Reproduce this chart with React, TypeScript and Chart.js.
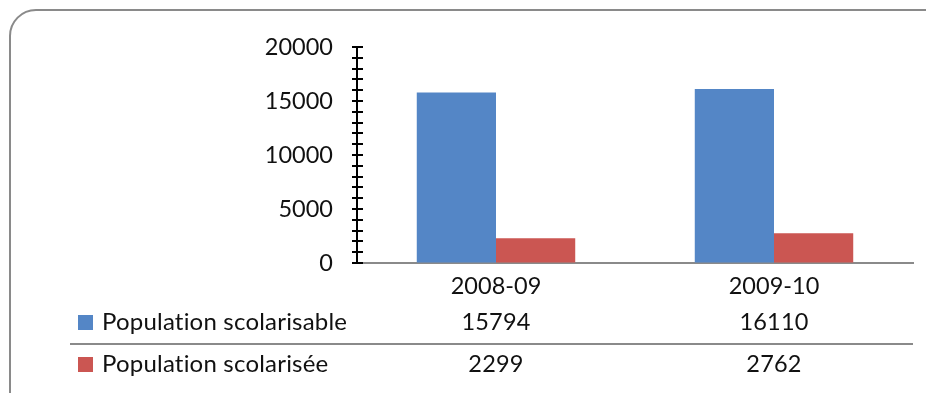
import React, { useEffect, useRef } from "react";
import { Chart, registerables } from "chart.js";

Chart.register(...registerables);

const categories = ["2008-09", "2009-10"];
const seriesNames = ["Population scolarisable", "Population scolarisée"];
const scolarisable = [15794, 16110];
const scolarisee = [2299, 2762];
const yMax = 20000;
const yMajorStep = 5000;
const yMinorStep = 1000;

const BLUE = "#5486C6";
const RED = "#CB5652";
const TEXT = "#111111";
const FONT = "Lato, 'Open Sans', sans-serif";

// Frame, crossing axis ticks and the data table under the plot
const tablePlugin = {
  id: "tablePlugin",
  beforeDraw(chart: any) {
    const ctx = chart.ctx;
    ctx.save();
    ctx.fillStyle = "#ffffff";
    ctx.fillRect(0, 0, chart.width, chart.height);
    ctx.strokeStyle = "#8a8a8a";
    ctx.lineWidth = 2;
    ctx.beginPath();
    ctx.roundRect(10, 10, 940, 410, 26);
    ctx.stroke();
    ctx.restore();
  },
  afterDraw(chart: any) {
    const ctx = chart.ctx;
    const x = chart.scales.x;
    const y = chart.scales.y;
    const area = chart.chartArea;
    ctx.save();

    // tick marks crossing the value axis
    ctx.strokeStyle = "#000000";
    ctx.lineWidth = 2;
    for (let v = 0; v <= yMax; v += yMinorStep) {
      const py = Math.round(y.getPixelForValue(v));
      ctx.beginPath();
      ctx.moveTo(area.left - 5, py);
      ctx.lineTo(area.left + 6, py);
      ctx.stroke();
    }

    // separator between table rows
    ctx.strokeStyle = "#8a8a8a";
    ctx.lineWidth = 2;
    ctx.beginPath();
    ctx.moveTo(70, 344);
    ctx.lineTo(area.right, 344);
    ctx.stroke();

    ctx.fillStyle = TEXT;
    ctx.textBaseline = "middle";
    // a tiny spacing keeps "ti" from being drawn as a ligature
    (ctx as any).letterSpacing = "0.2px";

    const rows = [
      { name: seriesNames[0], values: scolarisable, color: BLUE, cy: 322 },
      { name: seriesNames[1], values: scolarisee, color: RED, cy: 364 },
    ];
    rows.forEach((r) => {
      ctx.fillStyle = r.color;
      ctx.fillRect(78, r.cy - 7, 15, 15);
      ctx.fillStyle = TEXT;
      ctx.textAlign = "left";
      ctx.font = `24px ${FONT}`;
      ctx.fillText(r.name, 102, r.cy);
      ctx.textAlign = "center";
      ctx.font = `23.5px ${FONT}`;
      r.values.forEach((v, i) => {
        ctx.fillText(String(v), x.getPixelForValue(i), r.cy);
      });
    });
    ctx.restore();
  },
};

export default function App() {
  const ref = useRef<HTMLCanvasElement>(null);

  useEffect(() => {
    if (!ref.current) return;
    const chart = new Chart(ref.current, {
      type: "bar",
      data: {
        labels: categories,
        datasets: [
          {
            label: seriesNames[0],
            data: scolarisable,
            backgroundColor: BLUE,
            categoryPercentage: 0.57,
            barPercentage: 1,
          },
          {
            label: seriesNames[1],
            data: scolarisee,
            backgroundColor: RED,
            categoryPercentage: 0.57,
            barPercentage: 1,
          },
        ],
      },
      options: {
        responsive: false,
        animation: false,
        layout: { padding: { top: 47, right: 13, left: 0, bottom: 0 } },
        plugins: {
          legend: { display: false },
          tooltip: { enabled: false },
          title: { display: false },
        },
        scales: {
          x: {
            grid: { display: false, drawTicks: false },
            border: { display: true, color: "#8a8a8a", width: 2 },
            ticks: {
              color: TEXT,
              font: { family: FONT, size: 23.5 },
              padding: 9,
              maxRotation: 0,
            },
            afterFit: (s: any) => {
              s.height = 130;
            },
          },
          y: {
            min: 0,
            max: yMax,
            grid: { drawOnChartArea: false, drawTicks: false },
            border: { display: true, color: "#000000", width: 2 },
            ticks: {
              stepSize: yMajorStep,
              color: TEXT,
              font: { family: FONT, size: 23.5 },
              padding: 24,
              callback: (v: any) => String(v),
            },
            afterFit: (s: any) => {
              s.width = 357;
            },
          },
        },
      },
      plugins: [tablePlugin],
    });
    return () => chart.destroy();
  }, []);

  return (
    <div style={{ position: "absolute", left: 0, top: 0, width: 926, height: 393 }}>
      <canvas ref={ref} width={926} height={393} style={{ display: "block" }} />
    </div>
  );
}
